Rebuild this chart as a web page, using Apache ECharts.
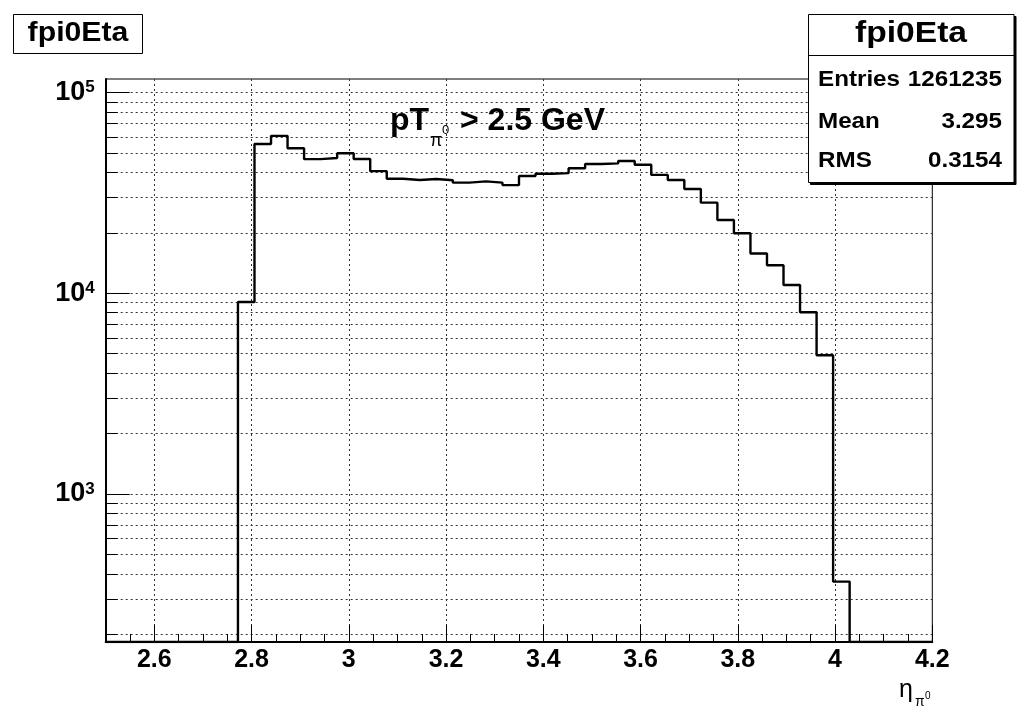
<!DOCTYPE html>
<html>
<head>
<meta charset="utf-8">
<script src="https://cdn.jsdelivr.net/npm/echarts@6/dist/echarts.min.js"></script>
<style>
html,body{margin:0;padding:0;background:#fff;}
#c{width:1031px;height:723px;}
</style>
</head>
<body>
<div id="c"></div>
<script>
// ---- data ----
const xMin = 2.5, xMax = 4.2, nBins = 50;
const counts = [
  0, 0, 0, 0, 0, 0, 0, 0,
  9050, 55500, 60900, 52800, 46600, 47200, 49900, 46700,
  40600, 37200, 36700, 37100, 36600, 35600, 36100, 35600,
  34600, 38400, 39400, 39700, 42000, 44100, 44400, 45600,
  43700, 38900, 36700, 33100, 28300, 23200, 19900, 15800,
  13800, 11000, 8040, 4910, 366,
  0, 0, 0, 0, 0
];
const xTickLabels = [2.6, 2.8, 3.0, 3.2, 3.4, 3.6, 3.8, 4.0, 4.2];
const yDecades = [1000, 10000, 100000];
const yMin = 183, yMax = 116900;
const histTitle = 'fpi0Eta';
const statsRows = [['Entries', '1261235'], ['Mean', '3.295'], ['RMS', '0.3154']];

// ---- build ----
const binW = (xMax - xMin) / nBins;
const stepPts = [];
for (let i = 0; i < nBins; i++) {
  stepPts.push([xMin + i * binW, counts[i] > 0 ? counts[i] : yMin]);
}
stepPts.push([xMax, yMin]);

const yMinorVals = [];
[100, 1000, 10000, 100000].forEach(d => {
  for (let k = 1; k <= 9; k++) {
    const v = d * k;
    if (v >= yMin && v <= yMax) yMinorVals.push(v);
  }
});

const FONT = '"Liberation Sans", Arial, Helvetica, sans-serif';
const gridDash = { color: '#333', width: 1, type: [2, 3] };

function txt(x, y, text, size, opts) {
  opts = opts || {};
  return {
    type: 'text', x: x, y: y, z: 100,
    scaleX: opts.sx || 1,
    style: {
      text: text,
      fontFamily: FONT,
      fontWeight: opts.weight || 'bold',
      fontSize: size,
      fontStyle: opts.style || 'normal',
      fill: '#000',
      align: opts.align || 'left',
      verticalAlign: 'middle'
    }
  };
}

const graphics = [
  // top-left title box
  { type: 'rect', z: 90, shape: { x: 13.5, y: 14.5, width: 129, height: 39 },
    style: { fill: '#fff', stroke: '#000', lineWidth: 1 } },
  txt(78, 33, histTitle, 28, { align: 'center', sx: 1.08 }),
  // stats box
  { type: 'rect', z: 89, shape: { x: 810.5, y: 16.5, width: 205.5, height: 168 },
    style: { fill: '#000', stroke: '#000', lineWidth: 1 } },
  { type: 'rect', z: 90, shape: { x: 808.5, y: 14.5, width: 205.5, height: 168 },
    style: { fill: '#fff', stroke: '#000', lineWidth: 1 } },
  { type: 'line', z: 91, shape: { x1: 808.5, y1: 55.5, x2: 1014, y2: 55.5 },
    style: { stroke: '#000', lineWidth: 1 } },
  txt(911, 34, histTitle, 30, { align: 'center', sx: 1.12 }),
  // pT label
  txt(390, 121, 'pT', 32),
  txt(430, 141, 'π', 18, { weight: 'normal' }),
  txt(442, 130, '0', 13, { weight: 'normal' }),
  txt(460, 121, '> 2.5 GeV', 32),
  // x axis title
  txt(899, 690, 'η', 25, { weight: 'normal' }),
  txt(915, 702, 'π', 14, { weight: 'normal' }),
  txt(925, 696, '0', 10, { weight: 'normal' })
];
const rowY = [79.5, 122, 160.5];
statsRows.forEach((r, i) => {
  graphics.push(txt(818, rowY[i], r[0], 22, { sx: 1.1 }));
  graphics.push(txt(1002, rowY[i], r[1], 22, { align: 'right', sx: 1.1 }));
});

const option = {
  animation: false,
  backgroundColor: '#fff',
  textStyle: { fontFamily: FONT },
  grid: {
    left: 105.7, right: 98.7, top: 79, bottom: 81,
    show: true, borderColor: '#000', borderWidth: 1, backgroundColor: '#fff'
  },
  xAxis: [
    {
      type: 'value', min: xMin, max: xMax, interval: 0.05, position: 'bottom',
      axisLine: { show: true, lineStyle: { color: '#000', width: 2 } },
      axisTick: { show: true, inside: true, length: 8, lineStyle: { color: '#000', width: 1 } },
      axisLabel: { show: false },
      splitLine: { show: false }
    },
    {
      type: 'value', min: xMin, max: xMax, position: 'bottom',
      axisLine: { show: false },
      axisTick: { show: true, inside: true, length: 17, customValues: xTickLabels,
        lineStyle: { color: '#000', width: 1 } },
      axisLabel: { show: true, customValues: xTickLabels, margin: 6,
        fontFamily: FONT, fontWeight: 'bold', fontSize: 25, color: '#000',
        formatter: v => String(Math.round(v * 10) / 10) },
      splitLine: { show: true, lineStyle: gridDash }
    }
  ],
  yAxis: [
    {
      type: 'log', logBase: 10, min: yMin, max: yMax, position: 'left',
      axisLine: { show: true, lineStyle: { color: '#000', width: 2 } },
      axisTick: { show: true, inside: true, length: 12, customValues: yMinorVals,
        lineStyle: { color: '#000', width: 1 } },
      axisLabel: { show: true, customValues: yDecades, margin: 11,
        formatter: v => '{b|10}{s|' + Math.round(Math.log10(v)) + '}',
        rich: {
          b: { fontFamily: FONT, fontWeight: 'bold', fontSize: 27, lineHeight: 27, color: '#000' },
          s: { fontFamily: FONT, fontWeight: 'bold', fontSize: 17, lineHeight: 17, color: '#000', verticalAlign: 'top' }
        } },
      splitLine: { show: true, lineStyle: gridDash }
    },
    {
      type: 'log', logBase: 10, min: yMin, max: yMax, position: 'left',
      axisLine: { show: false },
      axisTick: { show: true, inside: true, length: 24, customValues: yDecades,
        lineStyle: { color: '#000', width: 1 } },
      axisLabel: { show: false },
      splitLine: { show: false }
    }
  ],
  series: [{
    type: 'line', xAxisIndex: 0, yAxisIndex: 0,
    step: 'end', showSymbol: false, symbol: 'none',
    lineStyle: { color: '#000', width: 2.4 },
    data: stepPts, z: 10
  }],
  graphic: graphics
};

const chart = echarts.init(document.getElementById('c'), null, { renderer: 'canvas' });
chart.setOption(option);
</script>
</body>
</html>
